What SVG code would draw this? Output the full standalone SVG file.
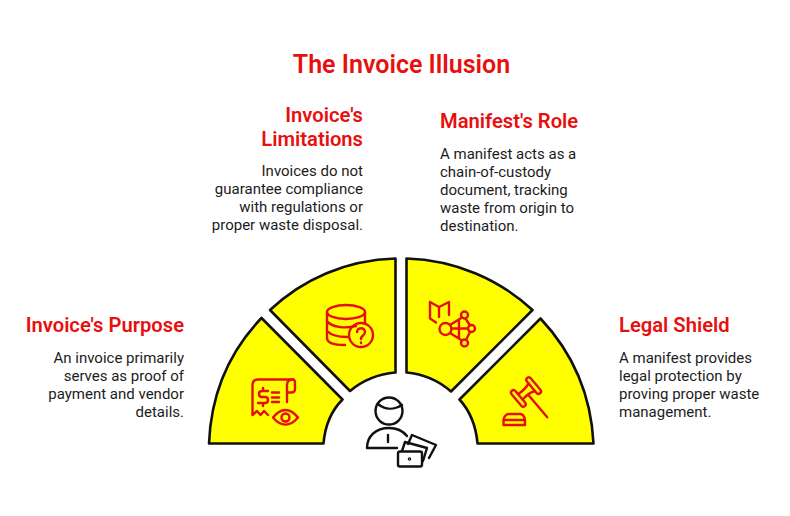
<svg xmlns="http://www.w3.org/2000/svg" width="790" height="516" viewBox="0 0 790 516">
<style>
text{font-family:Roboto,"Liberation Sans",sans-serif}
.t{font-size:20.2px;font-weight:600;fill:#e80f0f}
.b{font-size:15px;fill:#1c1c1c}
.e{text-anchor:end}
.seg{fill:#ffff00;stroke:#111;stroke-width:2.6;stroke-linejoin:round}
.ic{fill:none;stroke:#e60f0f;stroke-width:2.4;stroke-linecap:round;stroke-linejoin:round}
.k{fill:none;stroke:#111;stroke-width:2.4;stroke-linecap:round;stroke-linejoin:round}
</style>
<rect width="790" height="516" fill="#fff"/>
<text id="title" x="401.500" y="73" text-anchor="middle" font-size="25" font-weight="600" fill="#e80f0f">The Invoice Illusion</text>
<g id="node-purpose">
<path class="seg" d="M209 443.500C211 393 230 351 261.500 318L342.500 399.500C331 411 325 426 323.500 443.500Z"/>
<g class="ic"><path d="M293 379.500H258C254 379.500 252.500 381 252.500 385V415L257 411L260.500 415L264 411L268 415"/><path d="M293 379.500C289 379.500 287 381 287 385V402M287 392.500H291C294 392.500 295 391 295 389V383C295 380.500 294 379.500 293 379.500"/><path d="M268 391H262C258 391 258 397 262 397H265C269 397 269 403 265 403H258M263 388V391M263 403V406"/><path d="M272 392.500H279M272 397.500H279M272 402H279"/><path d="M273 417.500C281 407.500 290 407.500 298 417.500C290 427 281 427 273 417.500Z"/><circle cx="285.500" cy="417.500" r="4"/></g>
<text class="t e" x="184" y="332">Invoice's Purpose</text>
<text class="b e"><tspan x="184" y="363">An invoice primarily</tspan><tspan x="184" y="381">serves as proof of</tspan><tspan x="184" y="399">payment and vendor</tspan><tspan x="184" y="417">details.</tspan></text>
</g>
<g id="node-limitations">
<path class="seg" d="M270 310C303 279 346 260 395.500 258.500V372.500C378 374 362 381 350 391Z"/>
<g class="ic"><ellipse cx="346" cy="312" rx="19" ry="7"/><path d="M327 312V338C327 343 335 345 345 345M365 312V323M327 321C331 327 345 329 356 326M327 331C332 336 340 337 347 337"/><circle cx="361" cy="335" r="12"/><path d="M357 332C357 327 365 327 365 332C365 336 361 335 361 339M361 342.500V343"/></g>
<text class="t e"><tspan x="363" y="122">Invoice's</tspan><tspan x="363" y="146">Limitations</tspan></text>
<text class="b e"><tspan x="363" y="176">Invoices do not</tspan><tspan x="363" y="194">guarantee compliance</tspan><tspan x="363" y="212">with regulations or</tspan><tspan x="363" y="230">proper waste disposal.</tspan></text>
</g>
<g id="node-role">
<path class="seg" d="M406.500 258.500C455 260 499 279 532.500 310L451 391.500C439 381 424 374 406.500 372.500Z"/>
<g class="ic"><path d="M436 322.500L430 318.500V302L439 307L449 302V315M439 307V317"/><circle cx="445.500" cy="329" r="6"/><circle cx="464.500" cy="315" r="3.500"/><circle cx="471.500" cy="328.500" r="3.500"/><circle cx="464.500" cy="343" r="3.500"/><path d="M451.500 328.500H468M450 325L462 317.500M450 333L462 340.500M465.500 318.500L470 325.500M470 332L466 340M459 320V337"/></g>
<text class="t" x="440" y="128">Manifest's Role</text>
<text class="b"><tspan x="440" y="159">A manifest acts as a</tspan><tspan x="440" y="177">chain-of-custody</tspan><tspan x="440" y="195">document, tracking</tspan><tspan x="440" y="213">waste from origin to</tspan><tspan x="440" y="231">destination.</tspan></text>
</g>
<g id="node-shield">
<path class="seg" d="M540.500 318.500C571 351 591 393 593.500 443.500H477.500C476 426 470 411 459.500 399.500Z"/>
<g class="ic"><g transform="translate(526 392) rotate(-40)"><rect x="-12.500" y="-10" width="5" height="20" rx="2.500"/><rect x="7.500" y="-10" width="5" height="20" rx="2.500"/><path d="M-7.500 -3.500C-3 -3 3 -3 7.500 -5M-7.500 3.500C-3 3 3 3 7.500 5M0 3.500V33"/></g><path d="M503.500 425V420C504 417 506 414 509 414H520C523 414 524.500 417 525 420V425ZM504 420H525"/></g>
<text class="t" x="619" y="332">Legal Shield</text>
<text class="b"><tspan x="619" y="363">A manifest provides</tspan><tspan x="619" y="381">legal protection by</tspan><tspan x="619" y="399">proving proper waste</tspan><tspan x="619" y="417">management.</tspan></text>
</g>
<g id="node-person">
<g class="k"><circle cx="389" cy="411" r="13.500"/><path d="M378 404C385 410 394 410 402 405"/><path d="M367 448C367 436 376 428 389 428C398 428 403 431 407 436M367 448H397M388 435V442"/><path d="M408 444L412 435L436 445L429 458"/><path d="M402 451L405 442L427 448L423 461"/><rect x="398" y="451.500" width="24" height="15" rx="2" fill="#fff"/><circle cx="409.500" cy="459" r="0.600"/></g>
</g>
<g id="connectors"></g>
</svg>
